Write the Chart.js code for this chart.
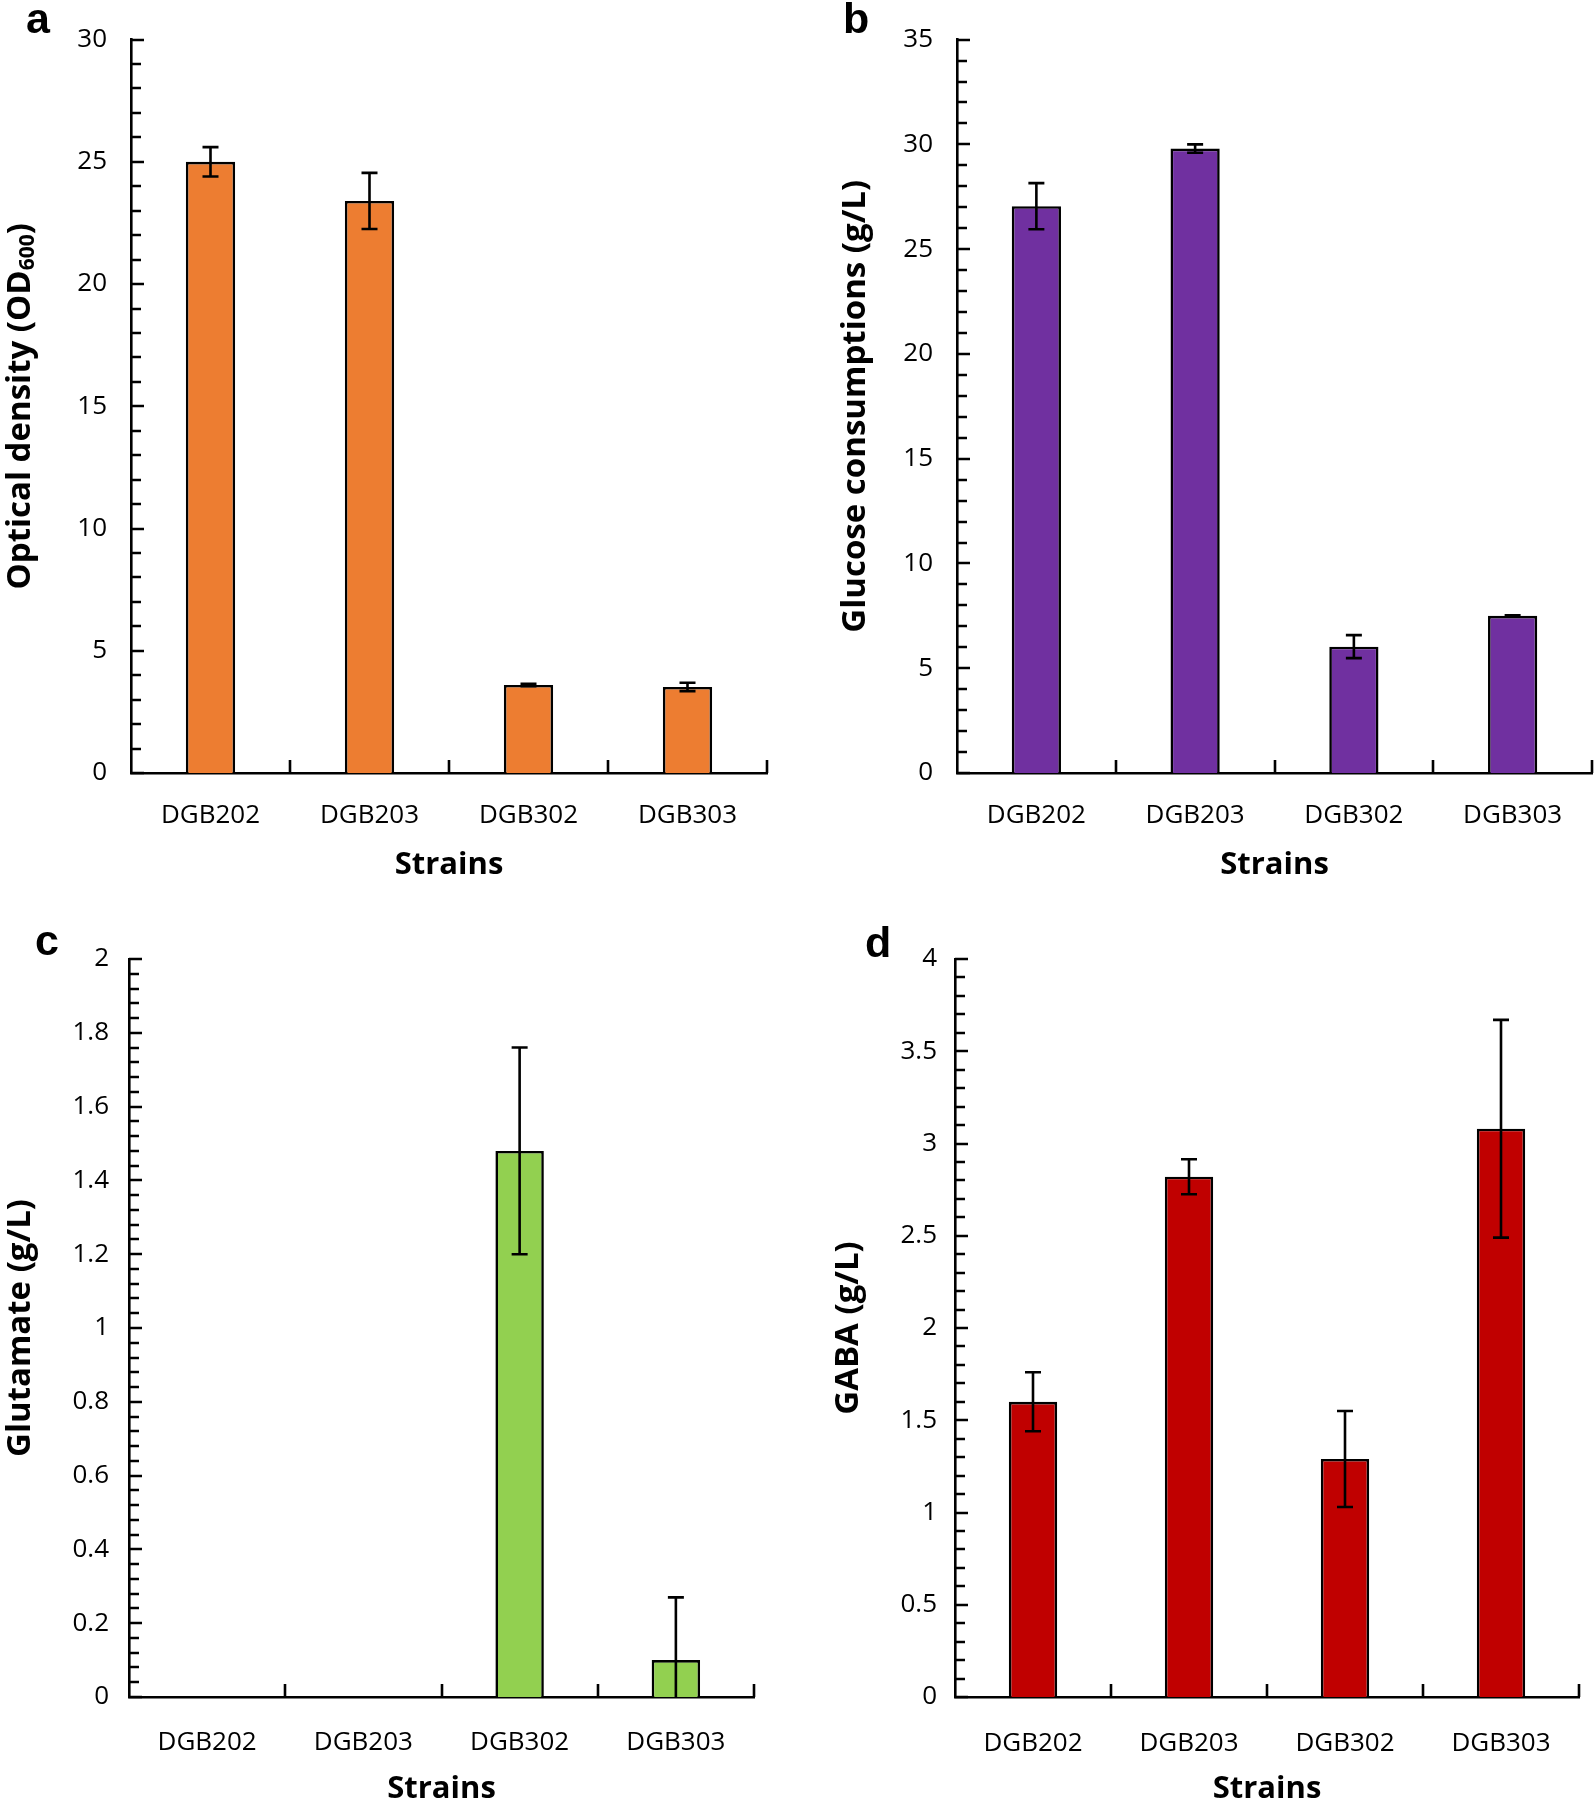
<!DOCTYPE html>
<html>
<head>
<meta charset="utf-8">
<script src="https://cdn.jsdelivr.net/npm/chart.js@4.4.1/dist/chart.umd.min.js"></script>
<style>
  html, body { margin: 0; padding: 0; background: #fff; overflow: hidden; }
  #page { position: relative; width: 1595px; height: 1802px; }
  #page canvas { position: absolute; }
</style>
</head>
<body>
<div id="page">
  <canvas id="cA" width="797" height="900" style="left:0;top:0"></canvas>
  <canvas id="cB" width="798" height="900" style="left:797px;top:0"></canvas>
  <canvas id="cC" width="797" height="902" style="left:0;top:900px"></canvas>
  <canvas id="cD" width="798" height="902" style="left:797px;top:900px"></canvas>
</div>
<script>
'use strict';

// ─── Data ────────────────────────────────────────────────────────────────────
const STRAINS = ['DGB202', 'DGB203', 'DGB302', 'DGB303'];

const OD_MEAN  = [25.0, 23.4, 3.6, 3.52];
const OD_SD    = [0.6, 1.15, 0.05, 0.17];
const OD_TICKS = [0, 5, 10, 15, 20, 25, 30];

const GLC_MEAN  = [27.05, 29.8, 6.03, 7.5];
const GLC_SD    = [1.1, 0.2, 0.55, 0.03];
const GLC_TICKS = [0, 5, 10, 15, 20, 25, 30, 35];

const GLU_MEAN  = [0, 0, 1.48, 0.1];
const GLU_SD    = [0, 0, 0.28, 0.17];
const GLU_TICKS = [0, 0.2, 0.4, 0.6, 0.8, 1, 1.2, 1.4, 1.6, 1.8, 2];

const GABA_MEAN  = [1.6, 2.82, 1.29, 3.08];
const GABA_SD    = [0.16, 0.095, 0.26, 0.59];
const GABA_TICKS = [0, 0.5, 1, 1.5, 2, 2.5, 3, 3.5, 4];

const PANELS = [
  { id: 'cA', letter: 'a', lx: 26, ly: 33, color: '#ED7D31',
    mean: OD_MEAN, sd: OD_SD, major: OD_TICKS, minor: 1,
    yTitle: '', yParts: ['Optical density (OD', '600', ')'], yTitleX: 20.5,
    pad: { left: 0, top: 37, right: 30, bottom: 0 }, yW: 131, xH: 127,
    yPad: 24, xPad: 27, xTitlePad: 19, yTitlePad: 4 },
  { id: 'cB', letter: 'b', lx: 46, ly: 33, color: '#7030A0',
    mean: GLC_MEAN, sd: GLC_SD, major: GLC_TICKS, minor: 1,
    yTitle: 'Glucose consumptions (g/L)',
    pad: { left: 0, top: 37, right: 3, bottom: 0 }, yW: 160, xH: 127,
    yPad: 24, xPad: 27, xTitlePad: 19, yTitlePad: 42 },
  { id: 'cC', letter: 'c', lx: 35, ly: 55, color: '#92D050',
    mean: GLU_MEAN, sd: GLU_SD, major: GLU_TICKS, minor: 0.04,
    yTitle: 'Glutamate (g/L)',
    pad: { left: 0, top: 59, right: 43, bottom: 0 }, yW: 129, xH: 105,
    yPad: 20, xPad: 30, xTitlePad: -3, yTitlePad: 4 },
  { id: 'cD', letter: 'd', lx: 68, ly: 57, color: '#C00000',
    mean: GABA_MEAN, sd: GABA_SD, major: GABA_TICKS, minor: 0.1,
    yTitle: 'GABA (g/L)',
    pad: { left: 0, top: 59, right: 16, bottom: 0 }, yW: 158, xH: 105,
    yPad: 18, xPad: 31, xTitlePad: -3, yTitlePad: 35.5 },
];

const FONT = '"Open Sans", "DejaVu Sans", sans-serif';
const LW   = 2.6;

// ─── Utilities ───────────────────────────────────────────────────────────────
const isMajor = (v, major) => major.some(m => Math.abs(m - v) < 1e-6);
const fmt = v => String(Number(v.toFixed(2)));

// ─── Plugin: inward ticks, error bars, panel letter, subscript title ─────────
const decor = {
  id: 'decor',
  afterDatasetsDraw(chart) {
    const { ctx, chartArea: area, scales: { y } } = chart;
    const ds   = chart.data.datasets[0];
    const meta = chart.getDatasetMeta(0);
    ctx.save();
    ctx.strokeStyle = '#000';
    ctx.lineWidth = LW;
    meta.data.forEach((bar, i) => {
      const e = ds.errors[i];
      if (!e) return;
      const v   = ds.data[i];
      const top = y.getPixelForValue(v + e);
      const raw = y.getPixelForValue(v - e);
      const bot = Math.min(raw, area.bottom);
      ctx.beginPath();
      ctx.moveTo(bar.x, top); ctx.lineTo(bar.x, bot);
      ctx.moveTo(bar.x - 8, top); ctx.lineTo(bar.x + 8, top);
      if (raw <= area.bottom) { ctx.moveTo(bar.x - 8, bot); ctx.lineTo(bar.x + 8, bot); }
      ctx.stroke();
    });
    ctx.restore();
  },
  afterDraw(chart, args, o) {
    const { ctx, chartArea: area, scales: { x, y } } = chart;
    ctx.save();
    ctx.strokeStyle = '#000';
    ctx.lineWidth = LW;
    ctx.beginPath();
    y.ticks.forEach(t => {
      const py  = Math.round(y.getPixelForValue(t.value));
      const len = t.label !== '' ? 13 : 10;
      ctx.moveTo(area.left, py); ctx.lineTo(area.left + len, py);
    });
    const half = (x.getPixelForValue(1) - x.getPixelForValue(0)) / 2;
    STRAINS.forEach((s, i) => {
      const px = Math.round(x.getPixelForValue(i) + half);
      ctx.moveTo(px, area.bottom); ctx.lineTo(px, area.bottom - 13);
    });
    ctx.stroke();

    // panel letter
    ctx.fillStyle = '#000';
    ctx.font = 'bold 43px "Liberation Sans", Arial, sans-serif';
    ctx.textBaseline = 'alphabetic'; ctx.textAlign = 'left';
    ctx.fillText(o.letter, o.lx, o.ly);

    // y title with subscript (panel a)
    if (o.parts && o.parts.length) {
      const mainF = `bold 33px ${FONT}`, subF = `bold 21px ${FONT}`;
      const fonts = o.parts.map((p, i) => (i === 1 ? subF : mainF));
      const widths = o.parts.map((p, i) => { ctx.font = fonts[i]; return ctx.measureText(p).width; });
      const total = widths.reduce((s, w) => s + w, 0);
      ctx.translate(o.tx, (area.top + area.bottom) / 2);
      ctx.rotate(-Math.PI / 2);
      ctx.textBaseline = 'middle';
      let cx = -total / 2;
      o.parts.forEach((p, i) => {
        ctx.font = fonts[i];
        ctx.fillText(p, cx, i === 1 ? 8 : 0);
        cx += widths[i];
      });
    }
    ctx.restore();
  },
};

// ─── Build one panel ─────────────────────────────────────────────────────────
function drawPanel(p) {
  const ctx = document.getElementById(p.id).getContext('2d');
  return new Chart(ctx, {
    type: 'bar',
    data: {
      labels: STRAINS,
      datasets: [{
        data: p.mean,
        errors: p.sd,
        backgroundColor: p.color,
        borderColor: '#000',
        borderWidth: LW,
        barPercentage: 0.31,
        categoryPercentage: 1,
      }],
    },
    plugins: [decor],
    options: {
      responsive: false,
      animation: false,
      devicePixelRatio: 1,
      layout: { padding: p.pad },
      plugins: {
        legend: { display: false },
        tooltip: { enabled: false },
        decor: { letter: p.letter, lx: p.lx, ly: p.ly, parts: p.yParts || [], tx: p.yTitleX || 0 },
      },
      scales: {
        x: {
          grid: { display: false, drawTicks: false },
          border: { display: true, color: '#000', width: LW },
          ticks: { font: { size: 26 }, color: '#000', padding: p.xPad, maxRotation: 0, autoSkip: false },
          title: {
            display: true, text: 'Strains', color: '#000',
            font: { size: 31, weight: 'bold', lineHeight: 1 },
            padding: { top: 0, bottom: p.xTitlePad },
          },
          afterFit: s => { s.height = p.xH; },
        },
        y: {
          min: 0,
          max: p.major[p.major.length - 1],
          grid: { display: false, drawTicks: false },
          border: { display: true, color: '#000', width: LW },
          ticks: {
            stepSize: p.minor, autoSkip: false, padding: p.yPad,
            font: { size: 26 }, color: '#000',
            callback: v => (isMajor(v, p.major) ? fmt(v) : ''),
          },
          title: {
            display: !!p.yTitle, text: p.yTitle, color: '#000',
            font: { size: 33, weight: 'bold', lineHeight: 1 },
            padding: { top: p.yTitlePad, bottom: 0 },
          },
          afterFit: s => { s.width = p.yW; },
        },
      },
    },
  });
}

Chart.defaults.font.family = FONT;
Chart.defaults.color = '#000';

const ready = document.fonts
  ? Promise.all([
      document.fonts.load(`26px ${FONT}`),
      document.fonts.load(`bold 31px ${FONT}`),
      document.fonts.load('bold 43px "Liberation Sans"'),
    ]).catch(() => null)
  : Promise.resolve();

ready.then(() => PANELS.forEach(drawPanel));
</script>
</body>
</html>
